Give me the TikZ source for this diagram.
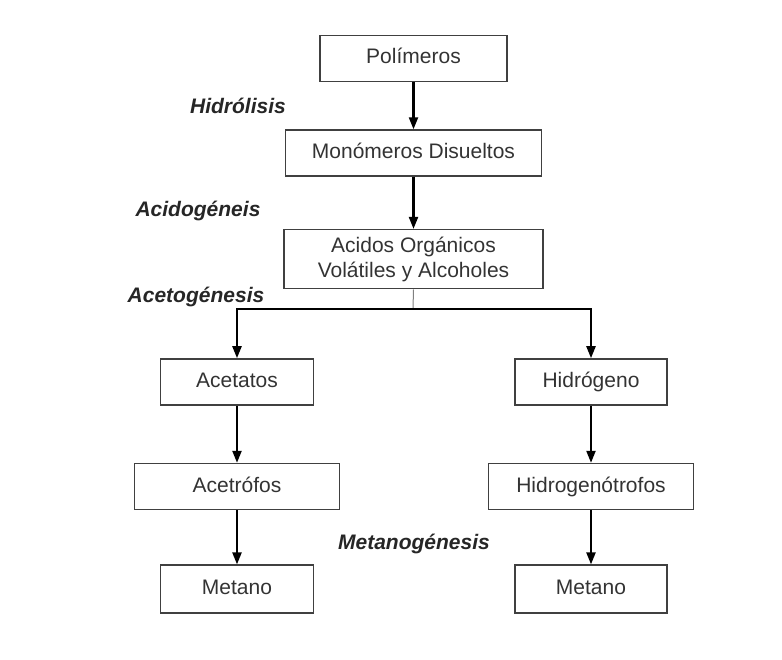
\documentclass[tikz,border=0pt]{standalone}
\usepackage{fontspec}
\setmainfont{Liberation Sans}
\usetikzlibrary{positioning,arrows.meta}

\tikzset{
	stage/.style = {draw=black!75, line width=1.6pt, text=black!80, font=\fontsize{21}{25}\selectfont,
		minimum height=46pt, inner sep=2pt, align=center, text height=15pt, text depth=4pt},
	flow/.style = {line width=2.2pt, -{Triangle[length=12pt,width=9pt]}},
	phase/.style = {font=\fontsize{21}{25}\selectfont\bfseries\itshape, text=black!85},
}

\begin{document}
\begin{tikzpicture}[x=1pt, y=-1pt]
	\useasboundingbox (0,0) rectangle (782,660);
	
	\node [stage, minimum width=187pt] (poly) at (413.5,58.5) {Polímeros};
	\node [stage, minimum width=256pt, below = 47pt of poly] (mono) {Monómeros Disueltos};
	\node [stage, minimum width=259pt, minimum height=59pt, below = 52pt of mono, text height=, text depth=] (acid) {Acidos Orgánicos\\Volátiles y Alcoholes};
	
	\node [stage, minimum width=153pt] (acet) at (237,382) {Acetatos};
	\node [stage, minimum width=205pt, below = 57pt of acet] (acetr) {Acetrófos};
	\node [stage, minimum width=153pt, minimum height=48pt, below = 54pt of acetr] (met1) {Metano};
	
	\node [stage, minimum width=152pt] (hidr) at (591,382) {Hidrógeno};
	\node [stage, minimum width=205pt, below = 57pt of hidr] (hidrt) {Hidrogenótrofos};
	\node [stage, minimum width=152pt, minimum height=48pt, below = 54pt of hidrt] (met2) {Metano};
	
	\coordinate (split) at (413,309);
	
	% etapas
	\node [phase] (hidrol) at (238,106) {Hidrólisis};
	\node [phase] (acidog) at (198,211) {Acidogéneis};
	\node [phase] (acetog) at (196,297) {Acetogénesis};
	\node [phase] (metan) at (414,544) {Metanogénesis};
	
	\draw [flow] (poly) -- (mono);
	\draw [flow] (mono) -- (acid);
	\draw [black!50, line width=1pt] (acid.south) -- (split);
	\draw [flow] (split) -| (acet);
	\draw [flow] (split) -| (hidr);
	\draw [flow] (acet) -- (acet |- acetr.north);
	\draw [flow] (acet |- acetr.south) -- (met1);
	\draw [flow] (hidr) -- (hidrt);
	\draw [flow] (hidrt) -- (met2);
	
\end{tikzpicture}
\end{document}
